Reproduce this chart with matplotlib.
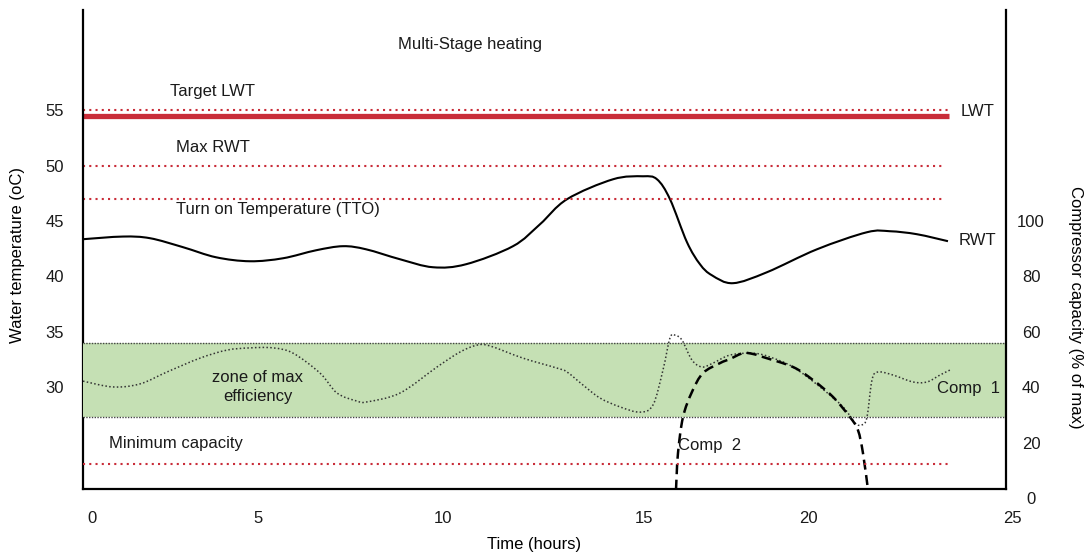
import matplotlib
matplotlib.use("Agg")
import matplotlib.pyplot as plt
from matplotlib.path import Path
from matplotlib.patches import PathPatch

plt.rcParams['font.family'] = ['Liberation Sans', 'DejaVu Sans']
plt.rcParams['font.size'] = 12
plt.rcParams['text.color'] = '#1a1a1a'

# axis labels / ticks
time_ticks = ["0", "5", "10", "15", "20", "25"]
time_tick_pos = [0, 4.51, 9.54, 15.0, 19.48, 25.0]   # labels are hand placed in the original
temp_ticks = [30, 35, 40, 45, 50, 55]
cap_ticks = [0, 20, 40, 60, 80, 100]

# set points, water temperature (oC)
target_lwt = 55.0
lwt = 54.46
max_rwt = 50.0
tto = 47.0
setpoint_end = 23.3          # hours

# compressor limits (% of max)
min_capacity = 12.3
zone_low = 29.2
zone_high = 56.0

# return water temperature (oC)
rwt_t = [-0.245, 0.842, 1.576, 2.473, 3.370, 4.293, 5.190, 6.087, 6.821, 7.446,
         8.370, 9.266, 10.163, 11.440, 12.174, 12.908, 14.158, 14.973, 15.353, 15.707,
         16.168, 16.522, 16.848, 17.418, 18.342, 19.701, 21.060, 21.685, 22.418, 23.261]
rwt = [43.36, 43.60, 43.45, 42.64, 41.73, 41.37, 41.64, 42.36, 42.73, 42.45,
       41.55, 40.83, 41.10, 42.73, 44.71, 46.97, 48.77, 49.04, 48.77, 46.97,
       43.09, 41.10, 40.10, 39.39, 40.38, 42.45, 43.99, 44.08, 43.81, 43.18]

# compressor 1 capacity (% of max)
comp1_t = [-0.245, 0.571, 1.304, 2.038, 2.935, 3.668, 4.293, 4.918, 5.462, 6.196,
           6.658, 7.201, 7.473, 8.370, 9.375, 10.0, 10.462, 10.815, 11.712, 12.636,
           12.908, 13.342, 13.804, 14.348, 14.891, 15.245, 15.516, 15.707, 15.842, 16.033,
           16.304, 16.576, 16.875, 17.337, 17.962, 18.424, 19.049, 19.783, 20.408, 20.734,
           20.924, 21.060, 21.196, 21.359, 21.766, 22.310, 22.690, 23.043, 23.315]
comp1 = [42.2, 40.1, 41.2, 45.5, 50.5, 53.4, 54.2, 54.2, 52.3, 45.1,
         37.9, 35.0, 34.7, 37.9, 47.3, 52.7, 55.2, 54.9, 50.5, 46.9,
         45.5, 40.8, 36.1, 32.9, 31.0, 33.6, 46.2, 57.8, 58.8, 57.0,
         49.8, 47.3, 48.7, 51.6, 52.3, 50.9, 47.3, 40.1, 32.9, 27.1,
         26.4, 29.2, 42.6, 45.5, 44.4, 41.9, 41.9, 44.4, 46.2]

# compressor 2 capacity (% of max)
comp2_t = [15.870, 15.924, 16.060, 16.304, 16.603, 17.065, 17.337, 17.690, 17.962, 18.234,
           19.049, 19.592, 20.136, 20.598, 20.815, 20.951, 21.087]
comp2 = [3.0, 16.2, 29.2, 38.3, 45.1, 48.7, 50.2, 52.3, 52.0, 50.9,
         47.3, 42.6, 36.5, 29.2, 24.5, 16.2, 3.0]

red = '#c92d39'
ink = '#1a1a1a'


def smooth_path(xs, ys):
    # cubic bezier through every read point (catmull-rom tangents)
    pts = list(zip(xs, ys))
    n = len(pts)
    verts = [pts[0]]
    codes = [Path.MOVETO]
    for i in range(n - 1):
        p0 = pts[max(i - 1, 0)]
        p1 = pts[i]
        p2 = pts[i + 1]
        p3 = pts[min(i + 2, n - 1)]
        c1 = (p1[0] + (p2[0] - p0[0]) / 6, p1[1] + (p2[1] - p0[1]) / 6)
        c2 = (p2[0] - (p3[0] - p1[0]) / 6, p2[1] - (p3[1] - p1[1]) / 6)
        verts += [c1, c2, p2]
        codes += [Path.CURVE4] * 3
    return Path(verts, codes)


fig = plt.figure(figsize=(10.87, 5.53), dpi=100)
ax = fig.add_axes([83 / 1087, 55 / 553, 947 / 1087, 488 / 553])

x_left, x_right, x_spine = -0.245, 25.49, 24.84
t_bottom, t_top, t_floor = 20.0, 64.05, 20.79

ax.set_xlim(x_left, x_right)
ax.set_ylim(t_bottom, t_top)
ax2 = ax.twinx()
ax2.set_ylim(0, (t_top - t_bottom) * 4)

# spines: open top, frame stops short of the axis extents
for s in ['top', 'right']:
    ax.spines[s].set_visible(False)
for s in ['top', 'left', 'bottom']:
    ax2.spines[s].set_visible(False)
ax.spines['bottom'].set_position(('data', t_floor))
ax.spines['bottom'].set_bounds(x_left, x_spine)
ax.spines['left'].set_bounds(t_floor, t_top)
ax2.spines['right'].set_position(('data', x_spine))
ax2.spines['right'].set_bounds((t_floor - t_bottom) * 4, (t_top - t_bottom) * 4)
for sp in [ax.spines['bottom'], ax.spines['left'], ax2.spines['right']]:
    sp.set_linewidth(1.6)
    sp.set_color('black')

ax.set_xticks(time_tick_pos, time_ticks)
ax.set_yticks(temp_ticks)
ax2.set_yticks(cap_ticks)
ax.tick_params(axis='x', length=0, pad=15.5, labelcolor=ink)
ax.tick_params(axis='y', length=0, pad=13.5, labelcolor=ink)
ax2.tick_params(axis='y', length=0, pad=18, labelcolor=ink)
plt.setp(ax2.get_yticklabels(), ha='center')

# set point lines
dots = (0, (1, 2))
ax.plot([x_left, setpoint_end], [target_lwt, target_lwt], color=red, lw=1.5, ls=dots)
ax.plot([x_left, setpoint_end], [lwt, lwt], color=red, lw=3.8, solid_capstyle='butt')
ax.plot([x_left, setpoint_end - 0.15], [max_rwt, max_rwt], color=red, lw=1.5, ls=dots)
ax.plot([x_left, setpoint_end - 0.15], [tto, tto], color=red, lw=1.5, ls=dots)

ax.add_patch(PathPatch(smooth_path(rwt_t, rwt), fill=False, edgecolor='black', lw=1.5))

# zone of max efficiency
ax2.fill_between([x_left, x_spine], zone_low, zone_high, color='#c5e0b4', lw=0, zorder=0)
for yv in [zone_low, zone_high]:
    ax2.plot([x_left, x_spine], [yv, yv], color='#444444', lw=1.0, ls=(0, (1, 1)))

ax2.plot([x_left, setpoint_end], [min_capacity, min_capacity], color=red, lw=1.5, ls=dots)
ax2.add_patch(PathPatch(smooth_path(comp1_t, comp1), fill=False, edgecolor='#333333',
                        lw=1.1, ls=(0, (1, 1.5))))
ax2.add_patch(PathPatch(smooth_path(comp2_t, comp2), fill=False, edgecolor='black',
                        lw=1.8, ls=(0, (4, 2.2))))

# annotations
ax.text(8.32, 60.96, 'Multi-Stage heating', ha='left', va='center')
ax.text(2.12, 56.71, 'Target LWT', ha='left', va='center')
ax.text(2.28, 51.66, 'Max RWT', ha='left', va='center')
ax.text(2.28, 46.06, 'Turn on Temperature (TTO)', ha='left', va='center')
ax.text(23.61, 54.9, 'LWT', ha='left', va='center')
ax.text(23.56, 43.27, 'RWT', ha='left', va='center')
ax2.text(4.51, 40.1, 'zone of max\nefficiency', ha='center', va='center', linespacing=1.4)
ax2.text(0.46, 19.5, 'Minimum capacity', ha='left', va='center')
ax2.text(15.92, 19.1, 'Comp  2', ha='left', va='center')
ax2.text(22.96, 39.7, 'Comp  1', ha='left', va='center')

ax.set_xlabel('Time (hours)', va='center')
ax.xaxis.set_label_coords((534 - 83) / 947, (498 - 545) / 488)
ax.set_ylabel('Water temperature (oC)', va='center')
ax.yaxis.set_label_coords((18 - 83) / 947, (498 - 255) / 488)
ax2.set_ylabel('Compressor capacity (% of max)', rotation=-90, va='center')
ax2.yaxis.set_label_coords((1076 - 83) / 947, (498 - 307) / 488)

fig.savefig('out.png', dpi=100)
